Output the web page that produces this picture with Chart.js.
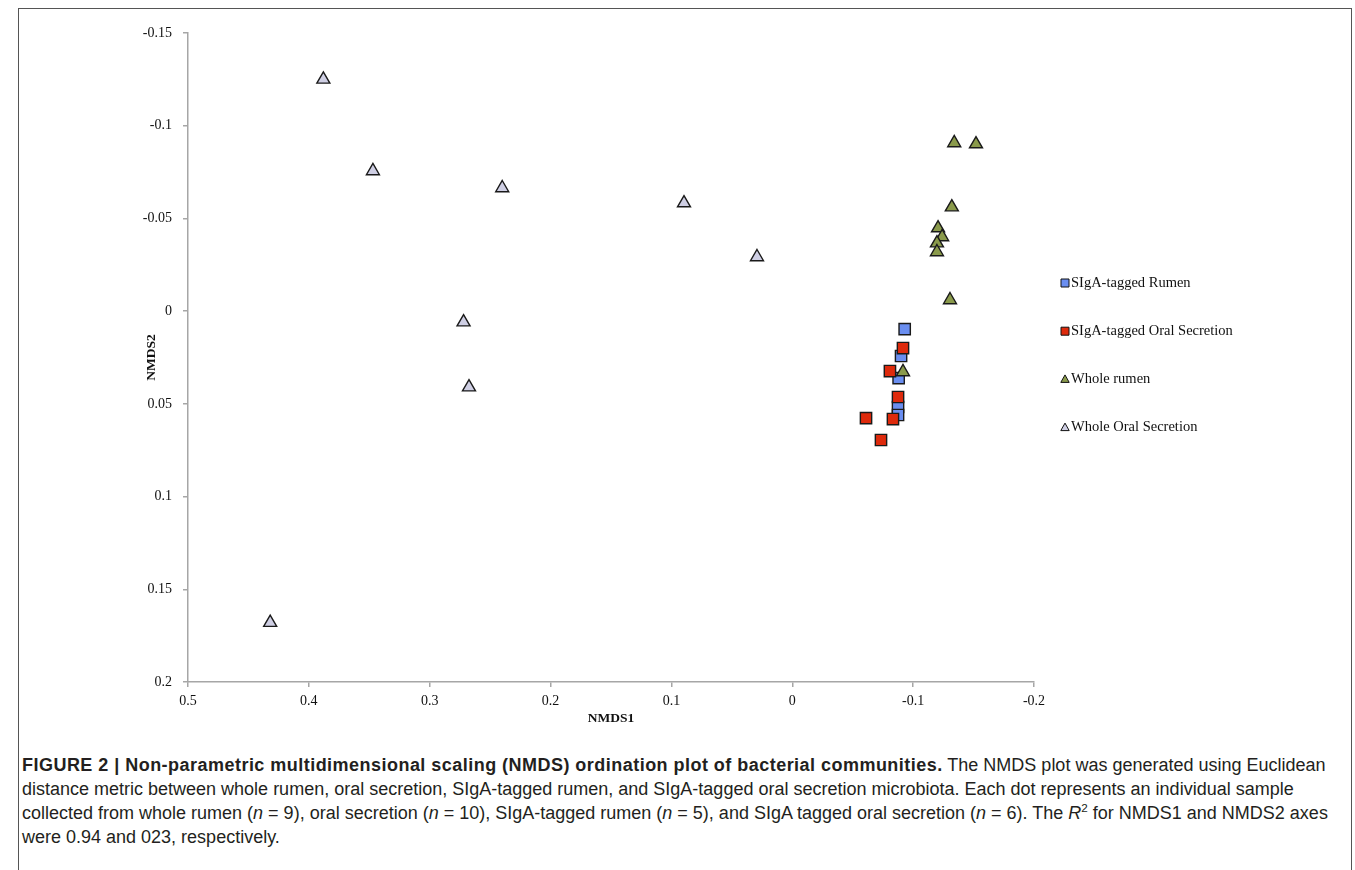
<!DOCTYPE html>
<html><head><meta charset="utf-8">
<script src="https://cdn.jsdelivr.net/npm/chart.js@4.4.1/dist/chart.umd.min.js"></script>
<style>
html,body{margin:0;padding:0;background:#fff;width:1355px;height:870px;overflow:hidden;}
#frame{position:absolute;left:18px;top:8px;width:1334px;height:900px;border:1px solid #555;box-sizing:border-box;}
#wrap{position:absolute;left:0;top:0;width:1355px;height:740px;}
#caption{position:absolute;left:22px;top:753px;font-family:"Liberation Sans",Arial,sans-serif;font-size:18px;line-height:24px;color:#231f20;white-space:nowrap;}
#caption b{letter-spacing:0.47px;}
#caption sup{font-size:0.65em;line-height:0;vertical-align:super;}
</style></head>
<body>
<div id="frame"></div>
<div id="wrap"><canvas id="c" width="1355" height="740"></canvas></div>
<div id="caption"><b>FIGURE 2 | Non-parametric multidimensional scaling (NMDS) ordination plot of bacterial communities.</b> The NMDS plot was generated using Euclidean<br>distance metric between whole rumen, oral secretion, SIgA-tagged rumen, and SIgA-tagged oral secretion microbiota. Each dot represents an individual sample<br>collected from whole rumen (<i>n</i> = 9), oral secretion (<i>n</i> = 10), SIgA-tagged rumen (<i>n</i> = 5), and SIgA tagged oral secretion (<i>n</i> = 6). The <i>R</i><sup>2</sup> for NMDS1 and NMDS2 axes<br>were 0.94 and 023, respectively.</div>
<script>
// ---- data ----
const categories = ['SIgA-tagged Rumen', 'SIgA-tagged Oral Secretion', 'Whole rumen', 'Whole Oral Secretion'];

const sigaRumenX = [-0.093, -0.090, -0.088, -0.0875, -0.0875];
const sigaRumenY = [0.0097, 0.0242, 0.0361, 0.0517, 0.0560];

const sigaOralX = [-0.0916, -0.0808, -0.0875, -0.061, -0.0833, -0.0734];
const sigaOralY = [0.0199, 0.0323, 0.0463, 0.0577, 0.0582, 0.0695];

const wholeRumenX = [-0.134, -0.152, -0.132, -0.1206, -0.124, -0.1197, -0.1197, -0.1305, -0.0916];
const wholeRumenY = [-0.0907, -0.0901, -0.0561, -0.0448, -0.040, -0.0367, -0.0319, -0.006, 0.0328];

const wholeOralX = [0.388, 0.347, 0.240, 0.0896, 0.0292, 0.272, 0.2675, 0.432];
const wholeOralY = [-0.125, -0.0756, -0.0664, -0.0583, -0.0292, 0.0059, 0.041, 0.168];

const xTickValues = [0.5, 0.4, 0.3, 0.2, 0.1, 0, -0.1, -0.2];
const xTickLabels = ['0.5', '0.4', '0.3', '0.2', '0.1', '0', '-0.1', '-0.2'];
const yTickValues = [-0.15, -0.1, -0.05, 0, 0.05, 0.1, 0.15, 0.2];
const yTickLabels = ['-0.15', '-0.1', '-0.05', '0', '0.05', '0.1', '0.15', '0.2'];

// ---- build ----
const zip = (xs, ys) => xs.map((x, i) => ({x: x, y: ys[i]}));
const styles = [
  {bg: '#6a8ef0', shape: 'rect', r: 8},
  {bg: '#de2a0c', shape: 'rect', r: 8},
  {bg: '#8a9a4b', shape: 'triangle', r: 7.5},
  {bg: '#cfcfe4', shape: 'triangle', r: 7.5}
];
const series = [[sigaRumenX, sigaRumenY], [sigaOralX, sigaOralY], [wholeRumenX, wholeRumenY], [wholeOralX, wholeOralY]];
const datasets = series.map((s, i) => ({
  label: categories[i],
  data: zip(s[0], s[1]),
  pointStyle: styles[i].shape,
  pointRadius: styles[i].r,
  pointHoverRadius: styles[i].r,
  backgroundColor: styles[i].bg,
  borderColor: '#1a1a1a',
  borderWidth: 1.4,
  order: 3 - i
}));

const serif = '"Liberation Serif","Times New Roman",serif';

const sideLegend = {
  id: 'sideLegend',
  afterDraw(chart) {
    const ctx = chart.ctx;
    const x0 = 1065, top = 283, gap = 48.2;
    ctx.save();
    chart.data.datasets.forEach((ds, i) => {
      const y = top + gap * i;
      ctx.fillStyle = ds.backgroundColor;
      ctx.strokeStyle = '#111';
      ctx.lineWidth = 1;
      ctx.beginPath();
      if (ds.pointStyle === 'rect') {
        ctx.rect(x0 - 4, y - 4, 8, 8);
      } else {
        ctx.moveTo(x0, y - 4.5);
        ctx.lineTo(x0 + 4.2, y + 3);
        ctx.lineTo(x0 - 4.2, y + 3);
        ctx.closePath();
      }
      ctx.fill();
      ctx.stroke();
      ctx.fillStyle = '#111';
      ctx.font = '14.5px ' + serif;
      ctx.textBaseline = 'middle';
      ctx.textAlign = 'left';
      ctx.fillText(ds.label, 1071, y);
    });
    ctx.restore();
  }
};

const axisColor = '#a6a6a6';
new Chart(document.getElementById('c'), {
  type: 'scatter',
  data: {datasets: datasets},
  options: {
    responsive: false,
    animation: false,
    layout: {padding: {left: 143, right: 321, top: 33, bottom: 13}},
    plugins: {legend: {display: false}, tooltip: {enabled: false}},
    scales: {
      x: {
        type: 'linear', reverse: true, min: -0.2, max: 0.5,
        afterFit: s => { s.height = 45; },
        afterBuildTicks: s => { s.ticks = xTickValues.map(v => ({value: v})); },
        ticks: {
          padding: 6, color: '#111', font: {family: serif, size: 14},
          autoSkip: false, maxRotation: 0,
          callback: (v) => xTickLabels[xTickValues.findIndex(t => Math.abs(t - v) < 1e-9)]
        },
        grid: {drawOnChartArea: false, drawTicks: true, tickLength: 5, color: axisColor, lineWidth: 1.5},
        border: {display: true, color: axisColor, width: 1.5},
        title: {display: true, text: 'NMDS1', color: '#111', padding: 0, font: {family: serif, size: 13.5, weight: 'bold'}}
      },
      y: {
        type: 'linear', reverse: true, min: -0.15, max: 0.2,
        afterFit: s => { s.width = 45; },
        afterBuildTicks: s => { s.ticks = yTickValues.map(v => ({value: v})); },
        ticks: {
          padding: 11, color: '#111', font: {family: serif, size: 14},
          autoSkip: false,
          callback: (v) => yTickLabels[yTickValues.findIndex(t => Math.abs(t - v) < 1e-9)]
        },
        grid: {drawOnChartArea: false, drawTicks: true, tickLength: 5, color: axisColor, lineWidth: 1.5},
        border: {display: true, color: axisColor, width: 1.5},
        title: {display: true, text: 'NMDS2', color: '#111', padding: 0, font: {family: serif, size: 13.5, weight: 'bold'}}
      }
    }
  },
  plugins: [sideLegend]
});
</script>
</body></html>
